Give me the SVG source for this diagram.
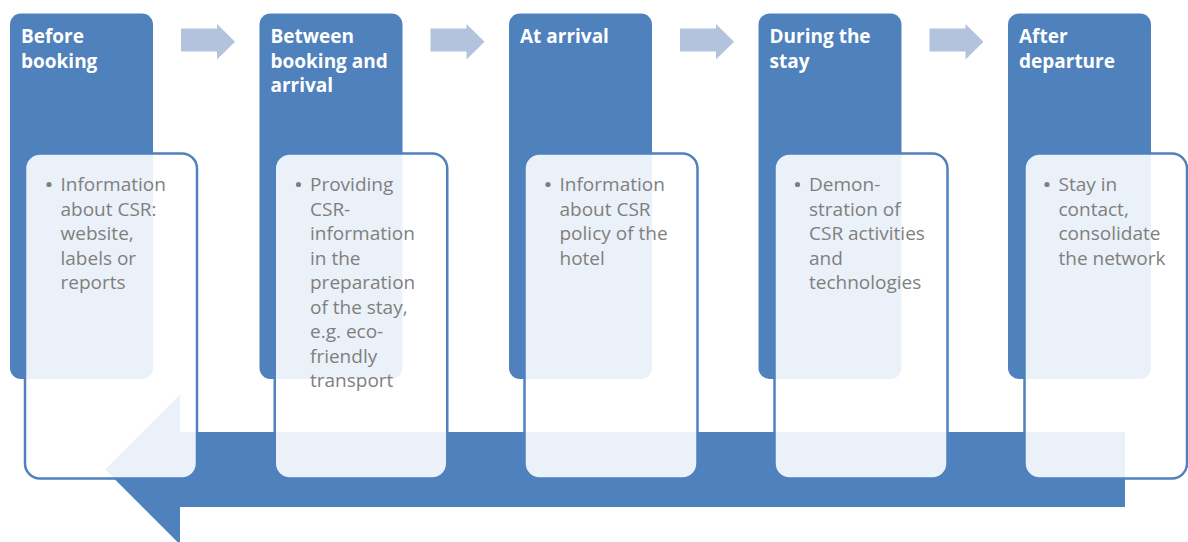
<svg xmlns="http://www.w3.org/2000/svg" width="1188" height="542" viewBox="0 0 1188 542">
  <style>
    .phase { fill: #4F81BD; }
    .card { fill: #FFFFFF; fill-opacity: 0.89; stroke: #4F81BD; stroke-width: 2.5; }
    .step { fill: #B3C3DE; }
    .title { font-family: "Open Sans", "Liberation Sans", sans-serif; font-size: 19px; font-weight: bold; fill: #FFFFFF; }
    .body { font-family: "Open Sans", "Liberation Sans", sans-serif; font-size: 19px; fill: #7F7F7F; }
    .dot { fill: #7F7F7F; }
  </style>
  <defs>
    <polygon id="step-arrow" points="0,28.5 36,28.5 36,24 54,41.7 36,59.5 36,51.5 0,51.5"/>
  </defs>

  <rect width="1188" height="542" fill="#FFFFFF"/>

  <!-- return arrow running back under the cards -->
  <g id="connectors">
    <polygon class="phase" points="105,469.5 180,394.5 180,432 1125,432 1125,507 180,507 180,544.5"/>
    <use href="#step-arrow" class="step" x="181"/>
    <use href="#step-arrow" class="step" x="430.5"/>
    <use href="#step-arrow" class="step" x="680"/>
    <use href="#step-arrow" class="step" x="929.5"/>
  </g>

  <g id="before-booking">
    <rect class="phase" x="10" y="13.5" width="143" height="365.5" rx="11"/>
    <text class="title" x="21"><tspan x="21" y="43">Before</tspan><tspan x="21" y="67.5">booking</tspan></text>
    <rect class="card" x="25" y="153.5" width="172" height="325" rx="15"/>
    <circle class="dot" cx="49" cy="184.5" r="2.6"/>
    <text class="body"><tspan x="60.5" y="191">Information</tspan><tspan x="60.5" y="215.5">about CSR:</tspan><tspan x="60.5" y="240">website,</tspan><tspan x="60.5" y="264.5">labels or</tspan><tspan x="60.5" y="289">reports</tspan></text>
  </g>

  <g id="between-booking-and-arrival">
    <rect class="phase" x="259.5" y="13.5" width="143" height="365.5" rx="11"/>
    <text class="title"><tspan x="270.5" y="43">Between</tspan><tspan x="270.5" y="67.5">booking and</tspan><tspan x="270.5" y="92">arrival</tspan></text>
    <rect class="card" x="274.75" y="153.5" width="172.5" height="325" rx="15"/>
    <circle class="dot" cx="298.5" cy="184.5" r="2.6"/>
    <text class="body"><tspan x="310" y="191">Providing</tspan><tspan x="310" y="215.5">CSR-</tspan><tspan x="310" y="240">information</tspan><tspan x="310" y="264.5">in the</tspan><tspan x="310" y="289">preparation</tspan><tspan x="310" y="313.5">of the stay,</tspan><tspan x="310" y="338">e.g. eco-</tspan><tspan x="310" y="362.5">friendly</tspan><tspan x="310" y="387">transport</tspan></text>
  </g>

  <g id="at-arrival">
    <rect class="phase" x="509" y="13.5" width="143" height="365.5" rx="11"/>
    <text class="title"><tspan x="520" y="43">At arrival</tspan></text>
    <rect class="card" x="524.5" y="153.5" width="173" height="325" rx="15"/>
    <circle class="dot" cx="548" cy="184.5" r="2.6"/>
    <text class="body"><tspan x="559.5" y="191">Information</tspan><tspan x="559.5" y="215.5">about CSR</tspan><tspan x="559.5" y="240">policy of the</tspan><tspan x="559.5" y="264.5">hotel</tspan></text>
  </g>

  <g id="during-the-stay">
    <rect class="phase" x="758.5" y="13.5" width="143" height="365.5" rx="11"/>
    <text class="title"><tspan x="769.5" y="43">During the</tspan><tspan x="769.5" y="67.5">stay</tspan></text>
    <rect class="card" x="774.5" y="153.5" width="173" height="325" rx="15"/>
    <circle class="dot" cx="797.5" cy="184.5" r="2.6"/>
    <text class="body"><tspan x="809" y="191">Demon-</tspan><tspan x="809" y="215.5">stration of</tspan><tspan x="809" y="240">CSR activities</tspan><tspan x="809" y="264.5">and</tspan><tspan x="809" y="289">technologies</tspan></text>
  </g>

  <g id="after-departure">
    <rect class="phase" x="1008" y="13.5" width="143" height="365.5" rx="11"/>
    <text class="title"><tspan x="1019" y="43">After</tspan><tspan x="1019" y="67.5">departure</tspan></text>
    <rect class="card" x="1024.5" y="153.5" width="162.5" height="325" rx="15"/>
    <circle class="dot" cx="1047" cy="184.5" r="2.6"/>
    <text class="body"><tspan x="1058.5" y="191">Stay in</tspan><tspan x="1058.5" y="215.5">contact,</tspan><tspan x="1058.5" y="240">consolidate</tspan><tspan x="1058.5" y="264.5">the network</tspan></text>
  </g>
</svg>
